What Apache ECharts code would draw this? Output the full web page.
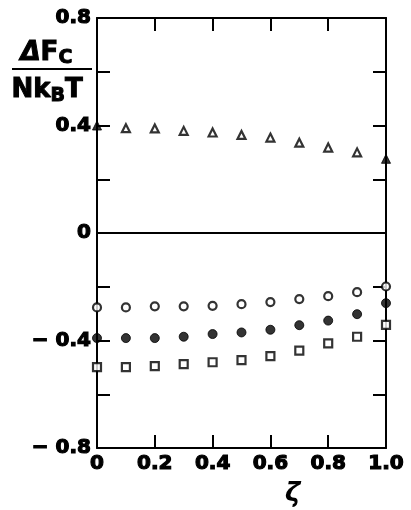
<!DOCTYPE html>
<html>
<head>
<meta charset="utf-8">
<script src="https://cdn.jsdelivr.net/npm/echarts@6/dist/echarts.min.js"></script>
<style>
  html, body { margin: 0; padding: 0; background: #fff; }
  #main { width: 411px; height: 510px; }
</style>
</head>
<body>
<div id="main"></div>
<script>
// zeta values along the x axis
const zeta = [0, 0.1, 0.2, 0.3, 0.4, 0.5, 0.6, 0.7, 0.8, 0.9, 1.0];
// Delta F_c / N k_B T
const triangles = [0.40, 0.39, 0.389, 0.38, 0.374, 0.365, 0.355, 0.336, 0.318, 0.30, 0.276];
const openCircles = [-0.277, -0.277, -0.273, -0.273, -0.271, -0.265, -0.257, -0.246, -0.235, -0.22, -0.199];
const filledCircles = [-0.391, -0.391, -0.391, -0.386, -0.376, -0.37, -0.36, -0.343, -0.326, -0.302, -0.261];
const squares = [-0.499, -0.499, -0.495, -0.488, -0.481, -0.473, -0.458, -0.438, -0.411, -0.386, -0.342];
// triangles drawn filled at the ends
const filledTriangleIdx = [0, 10];

const xTicks = ['0', '0.2', '0.4', '0.6', '0.8', '1.0'];
const yTicks = { '0.8': '0.8', '0.4': '0.4', '0': '0', '-0.4': '\u2212 0.4', '-0.8': '\u2212 0.8' };

const chartDom = document.getElementById('main');
const myChart = echarts.init(chartDom);

const font = '"DejaVu Sans", sans-serif';
const heavy = { textBorderColor: '#000', textBorderWidth: 1.2 };
const labelStyle = Object.assign({ color: '#000', fontSize: 20, fontWeight: 'bold', fontFamily: font }, heavy);

const pairs = (ys) => zeta.map((x, i) => [x, ys[i]]);
const openStyle = { color: '#fff', borderColor: '#000', borderWidth: 2.2 };
const fillStyle = { color: '#000', borderColor: '#000', borderWidth: 1 };

const triData = zeta.map((x, i) => ({
  value: [x, triangles[i]],
  symbolSize: filledTriangleIdx.includes(i) ? 9 : 8,
  itemStyle: filledTriangleIdx.includes(i) ? fillStyle : openStyle
}));

const xAxisBase = {
  type: 'value', min: 0, max: 1, interval: 0.2,
  splitLine: { show: false },
  axisLine: { show: true, onZero: false, lineStyle: { color: '#000', width: 2 } },
  axisTick: { show: true, inside: true, length: 13, lineStyle: { color: '#000', width: 2 } }
};
const yAxisBase = {
  type: 'value', min: -0.8, max: 0.8, interval: 0.2,
  splitLine: { show: false },
  axisLine: { show: true, onZero: false, lineStyle: { color: '#000', width: 2 } },
  axisTick: { show: true, inside: true, length: 13, lineStyle: { color: '#000', width: 2 } }
};

// fraction label on the y axis
const big = { fontSize: 26, fontWeight: 'bold', fontFamily: font, fill: '#000' };
const sub = Object.assign({}, big, { fontSize: 19 });

let option = {
  animation: false,
  backgroundColor: '#fff',
  grid: { left: 97, right: 25, top: 18, bottom: 62 },
  xAxis: [
    Object.assign({}, xAxisBase, {
      position: 'bottom',
      axisLabel: Object.assign({}, labelStyle, {
        margin: 6,
        formatter: (v) => xTicks[Math.round(v / 0.2)]
      })
    }),
    Object.assign({}, xAxisBase, { position: 'top', axisLabel: { show: false } })
  ],
  yAxis: [
    Object.assign({}, yAxisBase, {
      position: 'left',
      axisLabel: Object.assign({}, labelStyle, {
        margin: 6,
        formatter: (v) => {
          const k = String(Math.round(v * 10) / 10);
          return yTicks[k] !== undefined ? yTicks[k] : '';
        }
      })
    }),
    Object.assign({}, yAxisBase, { position: 'right', axisLabel: { show: false } })
  ],
  series: [
    {
      type: 'scatter', symbol: 'triangle',
      data: triData, z: 3,
      markLine: {
        silent: true, symbol: 'none', label: { show: false },
        lineStyle: { color: '#000', width: 2, type: 'solid' },
        data: [{ yAxis: 0 }]
      }
    },
    { type: 'scatter', symbol: 'circle', symbolSize: 8, itemStyle: openStyle, data: pairs(openCircles), z: 3 },
    { type: 'scatter', symbol: 'circle', symbolSize: 9, itemStyle: fillStyle, data: pairs(filledCircles), z: 3 },
    { type: 'scatter', symbol: 'rect', symbolSize: 8, itemStyle: openStyle, data: pairs(squares), z: 3 }
  ],
  graphic: [
    {
      type: 'text', left: 20, top: 40,
      style: {
        text: '{d|\u0394}{a|F}{s|C}',
        fill: '#000', stroke: '#000', lineWidth: 1,
        rich: {
          d: Object.assign({}, big, { fontStyle: 'italic' }),
          a: big,
          s: Object.assign({}, sub, { padding: [10, 0, 0, 0] })
        }
      }
    },
    { type: 'rect', shape: { x: 12, y: 68, width: 80, height: 2 }, style: { fill: '#000' } },
    {
      type: 'text', left: 11, top: 77,
      style: {
        text: '{a|Nk}{s|B}{a|T}',
        fill: '#000', stroke: '#000', lineWidth: 1,
        rich: {
          a: big,
          s: Object.assign({}, sub, { padding: [12, 0, 0, 0] })
        }
      }
    },
    {
      type: 'text', left: 285, top: 481,
      style: { text: '\u03B6', fontSize: 26, fontWeight: 'bold', fontStyle: 'italic', fontFamily: font, fill: '#000' }
    }
  ]
};

option && myChart.setOption(option);
</script>
</body>
</html>
